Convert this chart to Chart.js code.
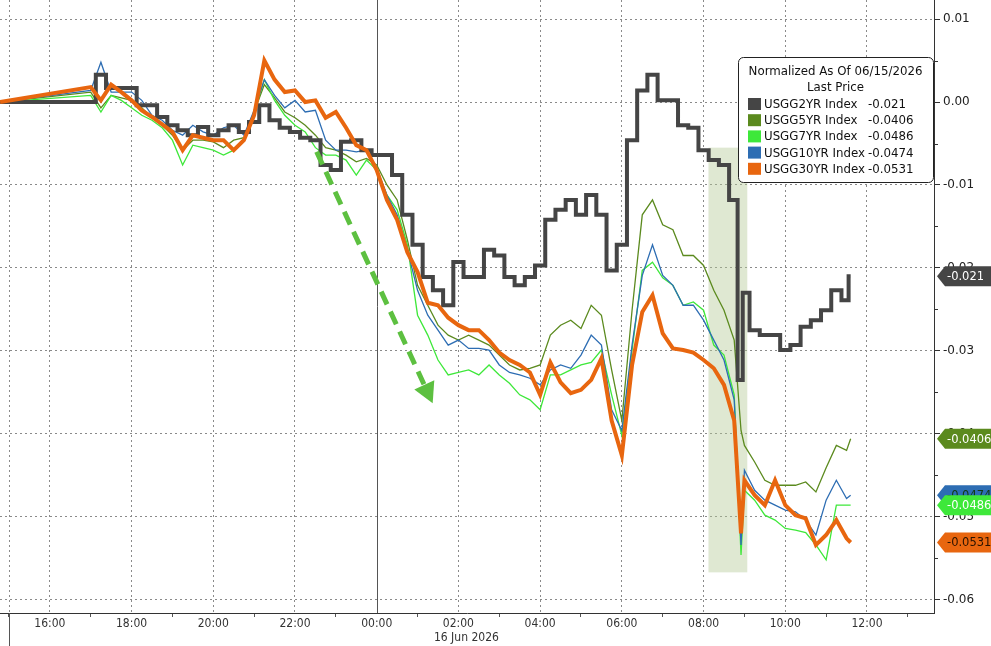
<!DOCTYPE html>
<html>
<head>
<meta charset="utf-8">
<script src="https://cdn.jsdelivr.net/npm/chart.js@4.4.1/dist/chart.umd.min.js"></script>
<style>
html, body { margin: 0; padding: 0; background: #fff; }
#wrap { width: 991px; height: 646px; position: relative; }
</style>
</head>
<body>
<div id="wrap"><canvas id="c"></canvas></div>
<script>
// times (15 Jun afternoon -> 16 Jun morning), hh:mm
var times = ['14:47',
  '17:00','17:15','17:30','17:45', '18:00','18:15','18:30','18:45',
  '19:00','19:15','19:30','19:45', '20:00','20:15','20:30','20:45',
  '21:00','21:15','21:30','21:45', '22:00','22:15','22:30','22:45',
  '23:00','23:15','23:30','23:45', '00:00','00:15','00:30','00:45',
  '01:00','01:15','01:30','01:45', '02:00','02:15','02:30','02:45',
  '03:00','03:15','03:30','03:45', '04:00','04:15','04:30','04:45',
  '05:00','05:15','05:30','05:45', '06:00','06:15','06:30','06:45',
  '07:00','07:15','07:30','07:45', '08:00','08:15','08:30','08:45',
  '08:55',
  '09:00','09:15','09:30','09:45', '10:00','10:15','10:30','10:45',
  '11:00','11:15','11:30',
  '11:36'];

var usgg2 = [0,
  0, 0.0033, 0.0017, 0.0017,  0.0017, -0.0004, -0.0004, -0.0018,
  -0.0028, -0.0034, -0.0040, -0.0030,  -0.0040, -0.0034, -0.0028, -0.0036,
  -0.0024, -0.0004, -0.0022, -0.0031,  -0.0036, -0.0043, -0.0046, -0.0076,
  -0.0082, -0.0048, -0.0046, -0.0058,  -0.0064, -0.0064, -0.0088, -0.0136,
  -0.0172, -0.0211, -0.0227, -0.0245,  -0.0193, -0.0211, -0.0211, -0.0178,
  -0.0185, -0.0211, -0.0221, -0.0211,  -0.0197, -0.0142, -0.0130, -0.0118,
  -0.0136, -0.0112, -0.0136, -0.0203,  -0.0172, -0.0046, 0.0014, 0.0033,
  0.0002, 0.0002, -0.0028, -0.0031,  -0.0058, -0.0070, -0.0076, -0.0118,
  -0.0335,
  -0.0230, -0.0275, -0.0281, -0.0281,  -0.0299, -0.0293, -0.0271, -0.0263,
  -0.0251, -0.0227, -0.0239,
  -0.0210];

var usgg5 = [0,
  0.0012, -0.0007, 0.0008, 0.0005,  0.0002, -0.0007, -0.0019, -0.0028,
  -0.0040, -0.0058, -0.0046, -0.0046,  -0.0048, -0.0055, -0.0046, -0.0043,
  -0.0012, 0.0021, 0.0005, -0.0012,  -0.0019, -0.0028, -0.0040, -0.0055,
  -0.0058, -0.0064, -0.0072, -0.0068,  -0.0076, -0.0100, -0.0118, -0.0166,
  -0.0221, -0.0245, -0.0269, -0.0281,  -0.0287, -0.0281, -0.0287, -0.0293,
  -0.0305, -0.0317, -0.0323, -0.0321,  -0.0317, -0.0281, -0.0269, -0.0263,
  -0.0273, -0.0245, -0.0257, -0.0323,  -0.0384, -0.0251, -0.0136, -0.0118,
  -0.0148, -0.0154, -0.0185, -0.0185,  -0.0197, -0.0227, -0.0251, -0.0287,
  -0.0396,
  -0.0414, -0.0434, -0.0456, -0.0462,  -0.0462, -0.0462, -0.0458, -0.0470,
  -0.0441, -0.0414, -0.0420,
  -0.0406];

var usgg7 = [0,
  0.0008, -0.0012, 0.0008, 0.0002,  -0.0007, -0.0016, -0.0022, -0.0031,
  -0.0046, -0.0076, -0.0052, -0.0055,  -0.0058, -0.0064, -0.0058, -0.0046,
  -0.0012, 0.0027, 0.0002, -0.0016,  -0.0028, -0.0036, -0.0055, -0.0064,
  -0.0064, -0.0070, -0.0088, -0.0070,  -0.0082, -0.0112, -0.0130, -0.0172,
  -0.0257, -0.0281, -0.0311, -0.0329,  -0.0326, -0.0323, -0.0329, -0.0317,
  -0.0329, -0.0339, -0.0353, -0.0359,  -0.0371, -0.0329, -0.0329, -0.0323,
  -0.0317, -0.0314, -0.0299, -0.0353,  -0.0402, -0.0299, -0.0203, -0.0193,
  -0.0212, -0.0221, -0.0245, -0.0241,  -0.0251, -0.0293, -0.0305, -0.0353,
  -0.0546,
  -0.0468, -0.0480, -0.0498, -0.0504,  -0.0514, -0.0516, -0.0519, -0.0534,
  -0.0552, -0.0486, -0.0486,
  -0.0486];

var usgg10 = [0,
  0.0014, 0.0048, 0.0012, 0.0012,  0.0012, 0.0002, -0.0016, -0.0022,
  -0.0034, -0.0040, -0.0028, -0.0036,  -0.0040, -0.0031, -0.0028, -0.0040,
  -0.0010, 0.0027, 0.0008, -0.0007,  0.0002, -0.0012, -0.0010, -0.0046,
  -0.0058, -0.0058, -0.0060, -0.0058,  -0.0080, -0.0112, -0.0136, -0.0178,
  -0.0227, -0.0257, -0.0275, -0.0293,  -0.0287, -0.0297, -0.0297, -0.0299,
  -0.0317, -0.0326, -0.0329, -0.0333,  -0.0341, -0.0323, -0.0317, -0.0321,
  -0.0305, -0.0281, -0.0293, -0.0371,  -0.0396, -0.0293, -0.0209, -0.0172,
  -0.0209, -0.0221, -0.0245, -0.0245,  -0.0263, -0.0287, -0.0311, -0.0359,
  -0.0534,
  -0.0444, -0.0468, -0.0480, -0.0486,  -0.0492, -0.0494, -0.0504, -0.0522,
  -0.0480, -0.0456, -0.0478,
  -0.0474];

var usgg30 = [0,
  0.0018, 0.0002, 0.0021, 0.0012,  0.0002, -0.0010, -0.0018, -0.0027,
  -0.0036, -0.0058, -0.0040, -0.0043,  -0.0046, -0.0046, -0.0058, -0.0046,
  -0.0016, 0.0050, 0.0027, 0.0012,  0.0014, 0.0000, 0.0002, -0.0019,
  -0.0012, -0.0031, -0.0052, -0.0058,  -0.0082, -0.0118, -0.0142, -0.0181,
  -0.0205, -0.0242, -0.0245, -0.0260,  -0.0269, -0.0275, -0.0275, -0.0287,
  -0.0302, -0.0311, -0.0317, -0.0326,  -0.0353, -0.0314, -0.0338, -0.0351,
  -0.0347, -0.0335, -0.0309, -0.0384,  -0.0426, -0.0317, -0.0253, -0.0233,
  -0.0279, -0.0297, -0.0299, -0.0302,  -0.0311, -0.0321, -0.0341, -0.0384,
  -0.0520,
  -0.0456, -0.0474, -0.0486, -0.0456,  -0.0486, -0.0498, -0.0502, -0.0534,
  -0.0522, -0.0504, -0.0526,
  -0.0531];

var names = ['USGG2YR Index', 'USGG5YR Index', 'USGG7YR Index', 'USGG10YR Index', 'USGG30YR Index'];
var lastPrice = ['-0.021', '-0.0406', '-0.0486', '-0.0474', '-0.0531'];
var colors = ['#454545', '#5b8a1e', '#3ee83a', '#2d6db3', '#e8660f'];
var yTicks = [0.01, 0.00, -0.01, -0.02, -0.03, -0.04, -0.05, -0.06];
var yMinor = [0.005, -0.005, -0.015, -0.025, -0.035, -0.045, -0.055];

// hours relative to 16 Jun 00:00
function hrs(s) {
  var p = s.split(':');
  var h = Number(p[0]) + Number(p[1]) / 60;
  return h >= 14 ? h - 24 : h;
}
function pts(arr) {
  return arr.map(function (v, i) { return { x: hrs(times[i]), y: v }; });
}

var allSeries = [usgg2, usgg5, usgg7, usgg10, usgg30];
var widths = [4, 1.3, 1.3, 1.3, 4];
var orders = [1, 4, 3, 2, 0];

var datasets = allSeries.map(function (s, i) {
  return {
    label: names[i],
    data: pts(s),
    borderColor: colors[i],
    borderWidth: widths[i],
    pointRadius: 0,
    fill: false,
    tension: 0,
    stepped: i === 0 ? 'middle' : false,
    order: orders[i]
  };
});

var fontMain = '"DejaVu Sans", Verdana, sans-serif';
var fontNarrow = '"Liberation Sans Narrow", "DejaVu Sans Condensed", sans-serif';

// shaded box + arrow positions (time in hours, value)
var shade = { t0: 8.12, t1: 9.07, v0: -0.0055, v1: -0.0567 };
var arrow = { t0: -1.47, v0: -0.0060, t1: 1.37, v1: -0.0363 };

var extras = {
  id: 'extras',
  beforeDatasetsDraw: function (chart) {
    var ctx = chart.ctx, x = chart.scales.x, y = chart.scales.y, a = chart.chartArea;
    ctx.save();
    ctx.fillStyle = 'rgba(178,200,148,0.42)';
    var sx0 = x.getPixelForValue(shade.t0), sx1 = x.getPixelForValue(shade.t1);
    var sy0 = y.getPixelForValue(shade.v0), sy1 = y.getPixelForValue(shade.v1);
    ctx.fillRect(sx0, sy0, sx1 - sx0, sy1 - sy0);
    // day boundary
    ctx.strokeStyle = '#555';
    ctx.lineWidth = 1;
    var mx = Math.round(x.getPixelForValue(0)) + 0.5;
    ctx.beginPath(); ctx.moveTo(mx, a.top); ctx.lineTo(mx, a.bottom); ctx.stroke();
    // session start line
    var fx = Math.round(x.getPixelForValue(-9)) + 0.5;
    ctx.strokeStyle = '#8a8a8a';
    ctx.setLineDash([2, 3]);
    ctx.beginPath(); ctx.moveTo(fx, a.top); ctx.lineTo(fx, a.bottom); ctx.stroke();
    ctx.restore();
  },
  afterDatasetsDraw: function (chart) {
    var ctx = chart.ctx, x = chart.scales.x, y = chart.scales.y;
    var x0 = x.getPixelForValue(arrow.t0), y0 = y.getPixelForValue(arrow.v0);
    var x1 = x.getPixelForValue(arrow.t1), y1 = y.getPixelForValue(arrow.v1);
    var dx = x1 - x0, dy = y1 - y0, len = Math.sqrt(dx * dx + dy * dy);
    var ux = dx / len, uy = dy / len;
    var bx = x1 - ux * 20, by = y1 - uy * 20;
    ctx.save();
    ctx.strokeStyle = '#5dc040';
    ctx.fillStyle = '#5dc040';
    ctx.lineWidth = 5;
    ctx.setLineDash([14, 8]);
    ctx.beginPath(); ctx.moveTo(x0, y0); ctx.lineTo(bx + ux * 4, by + uy * 4); ctx.stroke();
    ctx.setLineDash([]);
    ctx.beginPath();
    ctx.moveTo(x1, y1);
    ctx.lineTo(bx - uy * 11, by + ux * 11);
    ctx.lineTo(bx + uy * 11, by - ux * 11);
    ctx.closePath(); ctx.fill();
    ctx.restore();
  },
  afterDraw: function (chart) {
    var ctx = chart.ctx, x = chart.scales.x, y = chart.scales.y, a = chart.chartArea;
    ctx.save();
    // stub line under axis
    var fx = Math.round(x.getPixelForValue(-9)) + 0.5;
    ctx.strokeStyle = '#555'; ctx.lineWidth = 1;
    ctx.beginPath(); ctx.moveTo(fx, a.bottom); ctx.lineTo(fx, 646); ctx.stroke();

    // minor ticks on the value axis
    ctx.strokeStyle = '#333';
    yMinor.forEach(function (v) {
      var py = Math.round(y.getPixelForValue(v)) + 0.5;
      ctx.beginPath(); ctx.moveTo(a.right, py); ctx.lineTo(a.right + 4, py); ctx.stroke();
    });

    // date under the axis
    ctx.fillStyle = '#333';
    ctx.font = '12px ' + fontNarrow;
    ctx.textAlign = 'center'; ctx.textBaseline = 'middle';
    ctx.fillText('16 Jun 2026', x.getPixelForValue(2) + 8, 638);

    // right-hand value flags
    var flagOrder = [0, 1, 3, 2, 4];
    var txtCol = ['#fff', '#fff', '#fff', '#103a10', '#2a1200'];
    ctx.font = '11.5px ' + fontMain;
    ctx.textAlign = 'left';
    flagOrder.forEach(function (i) {
      var s = allSeries[i];
      var py = y.getPixelForValue(s[s.length - 1]);
      var lx = a.right + 3;
      ctx.fillStyle = colors[i];
      ctx.beginPath();
      ctx.moveTo(lx, py);
      ctx.lineTo(lx + 8, py - 10);
      ctx.lineTo(991, py - 10);
      ctx.lineTo(991, py + 10);
      ctx.lineTo(lx + 8, py + 10);
      ctx.closePath(); ctx.fill();
      ctx.fillStyle = txtCol[i];
      ctx.fillText(lastPrice[i], lx + 10, py + 1);
    });

    // legend box
    var bx = 738, by = 57, bw = a.right - 1 - bx, bh = 125;
    ctx.fillStyle = '#fff';
    ctx.strokeStyle = '#222';
    ctx.lineWidth = 1;
    ctx.beginPath();
    ctx.roundRect(bx + 0.5, by + 0.5, bw, bh, 5);
    ctx.fill(); ctx.stroke();
    ctx.fillStyle = '#111';
    ctx.font = '11.8px ' + fontMain;
    ctx.textAlign = 'center';
    ctx.fillText('Normalized As Of 06/15/2026', bx + bw / 2, 72);
    ctx.fillText('Last Price', bx + bw / 2, 88);
    ctx.textAlign = 'left';
    names.forEach(function (n, i) {
      var ry = 104 + i * 16.2;
      ctx.fillStyle = colors[i];
      ctx.fillRect(748, ry - 6, 13, 12);
      ctx.fillStyle = '#111';
      ctx.fillText(n, 764, ry + 1);
      ctx.fillText(lastPrice[i], 868, ry + 1);
    });
    ctx.restore();
  }
};

new Chart(document.getElementById('c'), {
  type: 'line',
  data: { datasets: datasets },
  options: {
    responsive: true,
    maintainAspectRatio: false,
    animation: false,
    layout: { padding: 0 },
    plugins: { legend: { display: false }, tooltip: { enabled: false } },
    scales: {
      x: {
        type: 'linear',
        min: -9.22,
        max: 13.64,
        afterBuildTicks: function (s) {
          var t = [];
          for (var h = -9; h <= 13; h++) t.push({ value: h });
          s.ticks = t;
        },
        afterFit: function (s) {
          s.height = 33;
          s.paddingLeft = 0; s.paddingRight = 0;
        },
        ticks: {
          autoSkip: false,
          maxRotation: 0,
          padding: 0,
          color: '#333',
          font: { family: fontNarrow, size: 12 },
          callback: function (v) {
            if (v % 2 !== 0) return '';
            var h = ((v % 24) + 24) % 24;
            return (h < 10 ? '0' : '') + h + ':00';
          }
        },
        grid: {
          color: function (c) {
            var v = c.tick ? c.tick.value : 1;
            return (v % 2 === 0 && v !== 0) ? '#8a8a8a' : 'rgba(0,0,0,0)';
          },
          tickColor: function (c) {
            var v = c.tick ? c.tick.value : 0;
            return v % 2 !== 0 ? '#555' : 'rgba(0,0,0,0)';
          },
          tickLength: 4,
          lineWidth: 1
        },
        border: { display: true, color: '#333', width: 1, dash: [2, 3] }
      },
      y: {
        type: 'linear',
        position: 'right',
        min: -0.0616,
        max: 0.0123,
        afterBuildTicks: function (s) {
          s.ticks = yTicks.map(function (v) { return { value: v }; });
        },
        afterFit: function (s) {
          s.width = 57;
          s.paddingTop = 0; s.paddingBottom = 0;
        },
        ticks: {
          padding: 3,
          color: '#222',
          font: { family: fontMain, size: 12 },
          callback: function (v) {
            var r = Math.round(v * 100) / 100;
            return r === 0 ? '0.00' : r.toFixed(2);
          }
        },
        grid: {
          color: '#8a8a8a',
          tickColor: '#333',
          tickLength: 6,
          lineWidth: 1
        },
        border: { display: true, color: '#333', width: 1, dash: [2, 3] }
      }
    }
  },
  plugins: [extras]
});
</script>
</body>
</html>
